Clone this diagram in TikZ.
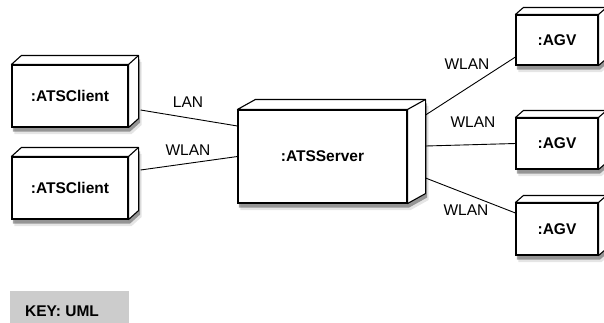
\documentclass[tikz,border=0pt]{standalone}
\usepackage{fontspec}
\setmainfont{Liberation Sans}
\usetikzlibrary{calc,backgrounds}
\newcommand{\cubeside}[3]{%
  \begin{scope}[on background layer]
    \fill[black, opacity=0.10] ($(#1.north west)+(3,6.5)$) -- ($(#1.north west)+(#2+3,-#3+6.5)$) -- ($(#1.north east)+(#2+3,-#3+6.5)$) -- ($(#1.south east)+(#2+3,-#3+6.5)$) -- ($(#1.south east)+(3,6.5)$) -- ($(#1.south west)+(3,6.5)$) -- cycle;
    \fill[black, opacity=0.35] ($(#1.north west)+(1.5,4)$) -- ($(#1.north west)+(#2+1.5,-#3+4)$) -- ($(#1.north east)+(#2+1.5,-#3+4)$) -- ($(#1.south east)+(#2+1.5,-#3+4)$) -- ($(#1.south east)+(1.5,4)$) -- ($(#1.south west)+(1.5,4)$) -- cycle;
  \end{scope}
  \draw[edge, fill=white] (#1.north west) -- ($(#1.north west)+(#2,-#3)$) -- ($(#1.north east)+(#2,-#3)$) -- ($(#1.south east)+(#2,-#3)$) -- (#1.south east) -- (#1.north east) -- cycle;
  \draw[edge] (#1.north east) -- ($(#1.north east)+(#2,-#3)$);
}
\begin{document}
\begin{tikzpicture}[x=1pt,y=-1pt,
  edge/.style={line width=1.1pt, line join=round},
  front/.style={draw, fill=white, line width=1.1pt, inner sep=0pt, font=\fontsize{15.5}{18}\selectfont\bfseries},
  lbl/.style={font=\fontsize{15.5}{18}\selectfont, inner sep=0pt},
  wire/.style={line width=0.9pt}]
\useasboundingbox (0,0) rectangle (604,322);
\clip (0,0) rectangle (604,322);

% nodes (front faces)
\node[front, minimum width=116pt, minimum height=62pt] (c1) at (70,96) {:ATSClient};
\node[front, minimum width=116pt, minimum height=62pt] (c2) at (70,188) {:ATSClient};
\node[front, minimum width=169pt, minimum height=93pt] (srv) at (322.5,156.5) {:ATSServer};
\node[front, minimum width=82pt, minimum height=50pt] (a1) at (557,40) {:AGV};
\node[front, minimum width=82pt, minimum height=51pt] (a2) at (557,143.5) {:AGV};
\node[front, minimum width=82pt, minimum height=52pt] (a3) at (557,229) {:AGV};

% 3D sides and shadows
\cubeside{c1}{10}{9}
\cubeside{c2}{10}{9}
\cubeside{srv}{18}{10}
\cubeside{a1}{8}{7}
\cubeside{a2}{8}{7}
\cubeside{a3}{8}{7}

% connectors
\draw[wire] ($(c1.east)+(12,14)$) -- ($(srv.west)+(0,-30.5)$);
\draw[wire] ($(c2.east)+(12,-18)$) -- (srv.west);
\draw[wire] ($(srv.east)+(18,-41.5)$) -- ($(a1.west)+(0,17)$);
\draw[wire] ($(srv.east)+(18,-10.5)$) -- (a2.west);
\draw[wire] ($(srv.east)+(18,21.5)$) -- ($(a3.west)+(0,-16)$);

% labels
\node[lbl] (l1) at (188,102) {LAN};
\node[lbl] (l2) at (188,150) {WLAN};
\node[lbl] (l3) at (467,64) {WLAN};
\node[lbl] (l4) at (473,122) {WLAN};
\node[lbl] (l5) at (466,210) {WLAN};

% key
\node[fill=black!20, anchor=north west, minimum width=119pt, minimum height=42pt, inner sep=0pt] (keybox) at (10,291) {};
\node[lbl, font=\fontsize{15.5}{18}\selectfont\bfseries, anchor=west] (key) at (25,311) {KEY: UML};
\end{tikzpicture}
\end{document}
